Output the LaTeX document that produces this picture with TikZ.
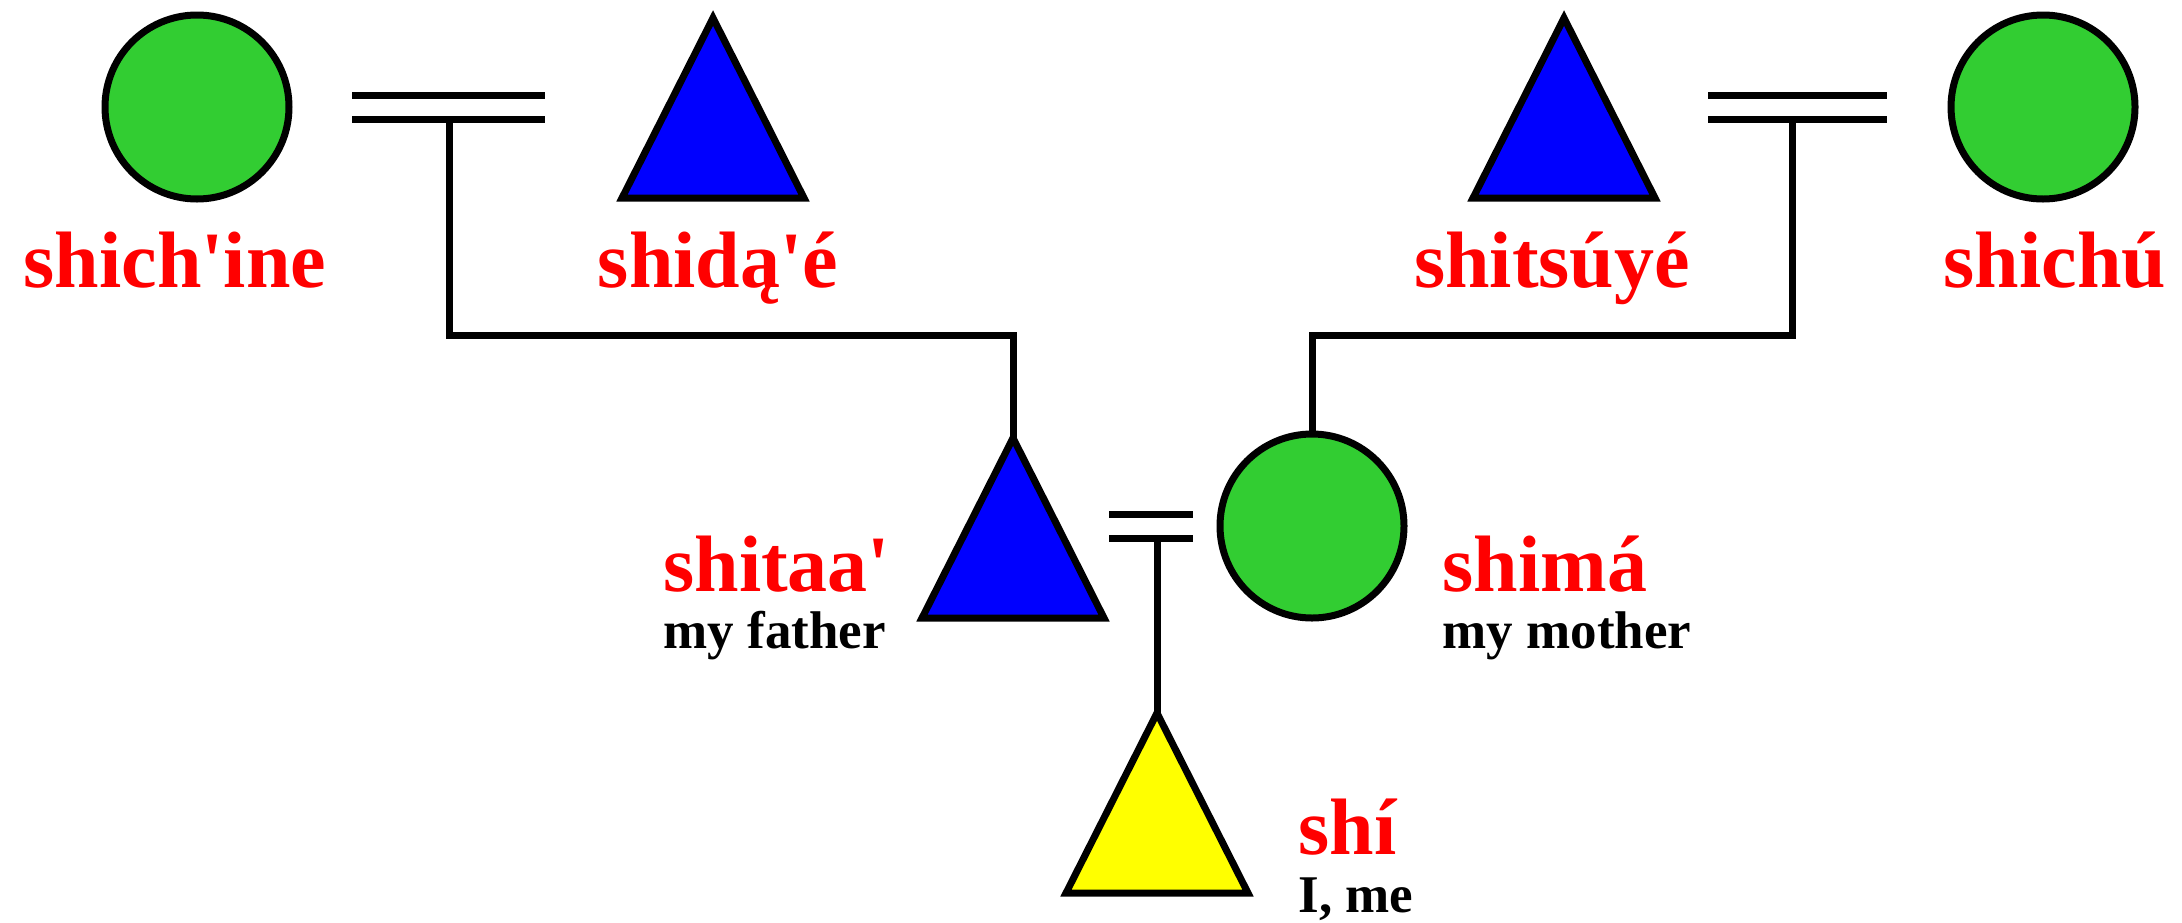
\documentclass[tikz,border=0pt]{standalone}
\usepackage{fontspec}
\setmainfont{Liberation Serif}
\definecolor{fgreen}{RGB}{50,205,50}
\definecolor{mblue}{RGB}{0,0,255}
\definecolor{myellow}{RGB}{255,255,0}
\definecolor{lred}{RGB}{255,0,0}
\tikzset{
  fem/.style={circle,draw=black,fill=fgreen,minimum size=92pt,inner sep=0pt,outer sep=0pt},
  tri/.pic={\path[draw=black,fill=#1] (0,-90) -- (91,90) -- (-91,90) -- cycle;
            \coordinate (-apex) at (0,-90);},
  kinlbl/.style={text=lred,font=\fontsize{40}{40}\selectfont\bfseries,inner sep=0pt},
  glosslbl/.style={text=black,font=\fontsize{26.5}{26.5}\selectfont\bfseries,inner sep=0pt},
  bar/.style={line width=3.5pt}
}
\begin{document}
\begin{tikzpicture}[x=0.5pt,y=-0.5pt,line width=3.5pt,line join=miter]
\useasboundingbox (0,0) rectangle (2182,922);

% shapes
\node[fem] (gm1) at (197,107) {};
\pic (gf1) at (713,108) {tri=mblue};
\pic (gf2) at (1564,108) {tri=mblue};
\node[fem] (gm2) at (2043,107) {};
\pic (fa) at (1013,528) {tri=mblue};
\node[fem] (mo) at (1312,526) {};
\pic (ego) at (1157,803) {tri=myellow};

% marriage bars
\coordinate (lb1) at (352,95);  \coordinate (lb2) at (545,95);
\coordinate (lb3) at (352,119); \coordinate (lb4) at (545,119);
\coordinate (lbar) at (449,119);
\draw[bar] (lb1) -- (lb2); \draw[bar] (lb3) -- (lb4);

\coordinate (rb1) at (1708,95);  \coordinate (rb2) at (1887,95);
\coordinate (rb3) at (1708,119); \coordinate (rb4) at (1887,119);
\coordinate (rbar) at (1792,119);
\draw[bar] (rb1) -- (rb2); \draw[bar] (rb3) -- (rb4);

\coordinate (mb1) at (1109,514); \coordinate (mb2) at (1193,514);
\coordinate (mb3) at (1109,538); \coordinate (mb4) at (1193,538);
\coordinate (mbar) at (1157,538);
\draw[bar] (mb1) -- (mb2); \draw[bar] (mb3) -- (mb4);

% descent lines
\draw (lbar) -- ++(0,216) -| (fa-apex);
\draw (rbar) -- ++(0,216) -| (mo.north);
\draw (mbar) -- (ego-apex);

% labels
\node[kinlbl,anchor=base] (l1) at (175,287) {shich\textquotesingle ine};
\node[kinlbl,anchor=base] (l2) at (718,287) {shidą\textquotesingle é};
\node[kinlbl,anchor=base] (l3) at (1552,287) {shitsúyé};
\node[kinlbl,anchor=base] (l4) at (2055,287) {shichú};
\node[kinlbl,anchor=base west] (l5) at (660,591) {shitaa\textquotesingle};
\node[glosslbl,anchor=base west] (g5) at (660,648) {my father};
\node[kinlbl,anchor=base west] (l6) at (1439,591) {shimá};
\node[glosslbl,anchor=base west] (g6) at (1439,648) {my mother};
\node[kinlbl,anchor=base west] (l7) at (1295,854) {shí};
\node[glosslbl,anchor=base west] (g7) at (1295,912) {I, me};
\end{tikzpicture}
\end{document}
